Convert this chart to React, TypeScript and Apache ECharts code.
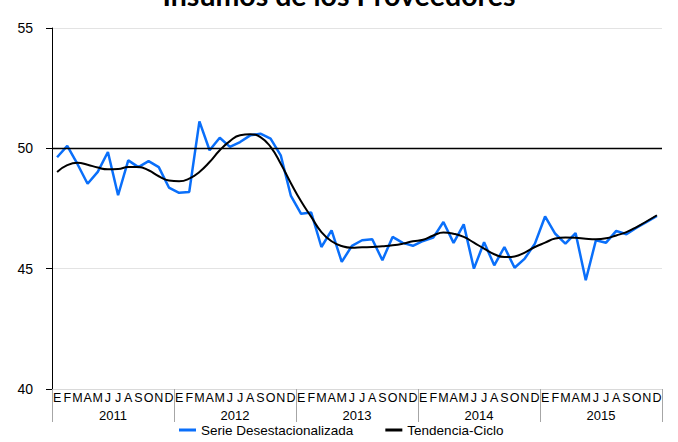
import React, { useEffect, useRef } from "react";
import * as echarts from "echarts";

const monthLabels = ["E", "F", "M", "A", "M", "J", "J", "A", "S", "O", "N", "D"];
const years = ["2011", "2012", "2013", "2014", "2015"];

const serieDesest2011 = [49.63, 50.1, 49.35, 48.53, 49.02, 49.85, 48.05, 49.5, 49.22, 49.47, 49.22, 48.37];
const serieDesest2012 = [48.15, 48.19, 51.12, 49.92, 50.44, 50.06, 50.26, 50.54, 50.61, 50.4, 49.71, 48.02];
const serieDesest2013 = [47.28, 47.33, 45.9, 46.59, 45.28, 45.95, 46.18, 46.22, 45.35, 46.32, 46.07, 45.95];
const serieDesest2014 = [46.15, 46.29, 46.94, 46.07, 46.84, 45.0, 46.1, 45.14, 45.9, 45.04, 45.42, 46.04];
const serieDesest2015 = [47.17, 46.45, 46.04, 46.48, 44.52, 46.18, 46.08, 46.57, 46.43, 46.7, 46.94, 47.19];

const tendencia2011 = [49.02, 49.3, 49.4, 49.32, 49.2, 49.13, 49.14, 49.22, 49.22, 49.09, 48.84, 48.66];
const tendencia2012 = [48.63, 48.74, 49.02, 49.43, 49.92, 50.3, 50.54, 50.58, 50.47, 50.06, 49.36, 48.55];
const tendencia2013 = [47.8, 47.15, 46.52, 46.14, 45.94, 45.87, 45.89, 45.9, 45.93, 45.97, 46.04, 46.14];
const tendencia2014 = [46.2, 46.38, 46.5, 46.45, 46.32, 46.08, 45.83, 45.6, 45.48, 45.51, 45.67, 45.9];
const tendencia2015 = [46.08, 46.25, 46.29, 46.28, 46.24, 46.22, 46.26, 46.38, 46.52, 46.73, 46.97, 47.22];

const referenceLevel = 50;
const yTicks = { min: 40, max: 55, interval: 5 };

export default function App() {
  const ref = useRef<HTMLDivElement>(null);

  useEffect(() => {
    if (!ref.current) return;
    const chart = echarts.init(ref.current, null, { renderer: "svg" });

    const categories: string[] = [];
    years.forEach(() => monthLabels.forEach((m) => categories.push(m)));
    const serie = [
      ...serieDesest2011,
      ...serieDesest2012,
      ...serieDesest2013,
      ...serieDesest2014,
      ...serieDesest2015,
    ];
    const tendencia = [
      ...tendencia2011,
      ...tendencia2012,
      ...tendencia2013,
      ...tendencia2014,
      ...tendencia2015,
    ];

    const font = "'Liberation Sans', Arial, sans-serif";

    chart.setOption({
      animation: false,
      backgroundColor: "#ffffff",
      title: {
        text: "Insumos de los Proveedores",
        left: "center",
        top: -25,
        textStyle: {
          fontFamily: "Lato, 'Open Sans', sans-serif",
          fontWeight: "bold",
          fontSize: 28.5,
          color: "#000000",
        },
      },
      grid: { left: 52, right: 16, top: 28, bottom: 53, containLabel: false },
      legend: {
        top: 421,
        left: 177,
        itemWidth: 17,
        itemHeight: 3,
        itemGap: 32,
        padding: 2,
        icon: "rect",
        textStyle: { fontFamily: font, fontSize: 13.5, color: "#000" },
        data: ["Serie Desestacionalizada", "Tendencia-Ciclo"],
      },
      xAxis: [
        {
          type: "category",
          data: categories,
          boundaryGap: true,
          axisLine: { show: true, lineStyle: { color: "#d9d9d9", width: 1 } },
          axisTick: { show: false },
          axisLabel: {
            interval: 0,
            margin: 2,
            fontFamily: font,
            fontSize: 12.5,
            color: "#000",
          },
        },
        {
          type: "category",
          data: years,
          position: "bottom",
          boundaryGap: true,
          axisLine: { show: false },
          axisTick: { show: true, length: 33, lineStyle: { color: "#a6a6a6", width: 1 } },
          axisLabel: {
            interval: 0,
            margin: 20,
            fontFamily: font,
            fontSize: 13,
            color: "#000",
          },
        },
      ],
      yAxis: {
        type: "value",
        min: yTicks.min,
        max: yTicks.max,
        interval: yTicks.interval,
        axisLine: { show: true, lineStyle: { color: "#000", width: 1 } },
        axisTick: { show: true, length: 6, lineStyle: { color: "#000" } },
        axisLabel: { fontFamily: font, fontSize: 14, color: "#000", margin: 19 },
        splitLine: { show: true, lineStyle: { color: "#e3e3e3", width: 1 } },
      },
      series: [
        {
          name: "Serie Desestacionalizada",
          type: "line",
          data: serie,
          xAxisIndex: 0,
          showSymbol: false,
          symbol: "none",
          color: "#0a6ffa",
          lineStyle: { color: "#0a6ffa", width: 2.5 },
          markLine: {
            silent: true,
            symbol: "none",
            label: { show: false },
            lineStyle: { color: "#000", width: 1.3, type: "solid" },
            data: [{ yAxis: referenceLevel }],
          },
          z: 2,
        },
        {
          name: "Tendencia-Ciclo",
          type: "line",
          data: tendencia,
          xAxisIndex: 0,
          smooth: true,
          showSymbol: false,
          symbol: "none",
          color: "#000000",
          lineStyle: { color: "#000000", width: 2 },
          z: 3,
        },
      ],
    });

    return () => chart.dispose();
  }, []);

  return (
    <div
      ref={ref}
      style={{ position: "fixed", left: 0, top: 0, width: 678, height: 442 }}
    />
  );
}
